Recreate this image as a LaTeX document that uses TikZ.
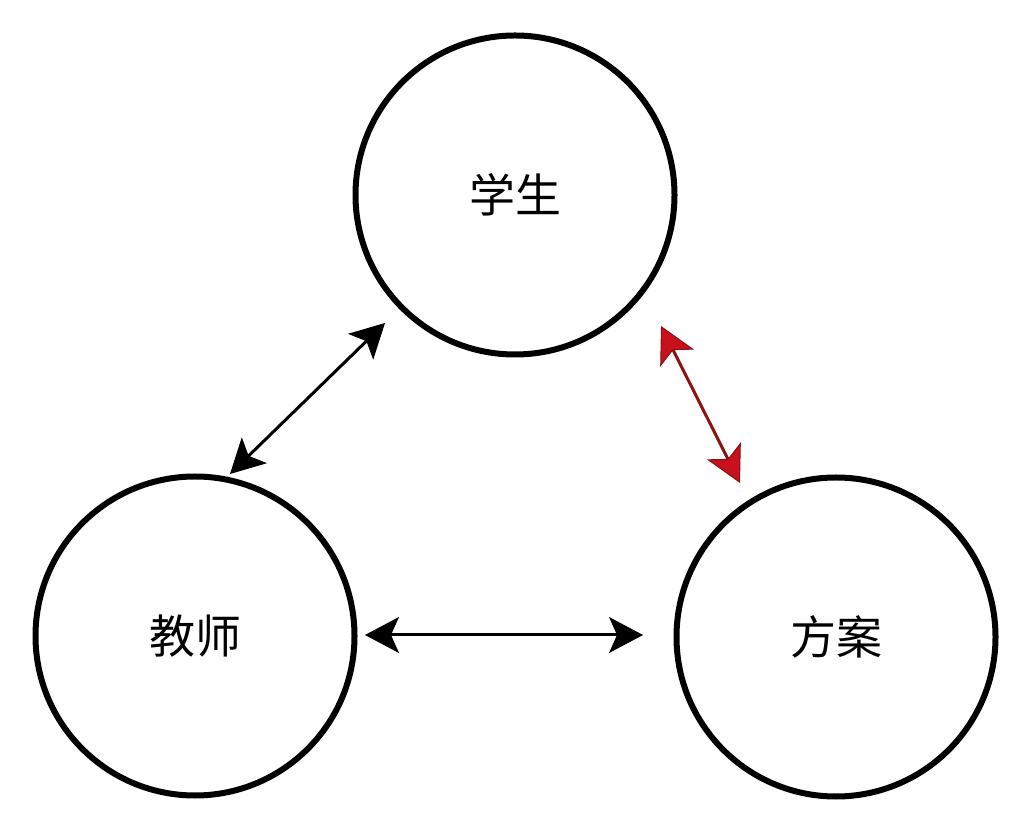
\documentclass[tikz,border=0pt]{standalone}
\usepackage{fontspec}
\newfontfamily\cjk{Noto Sans CJK SC}
\usetikzlibrary{arrows.meta,calc}
\definecolor{redline}{RGB}{140,18,18}
\definecolor{redhead}{RGB}{200,16,30}
\tikzset{
  ring/.style={circle,draw=black,line width=6pt,minimum size=319pt,inner sep=0pt,
    font=\cjk\fontsize{46}{50}\selectfont},
  blackhead/.style={Stealth[length=34pt,width=36pt,inset=8pt,line width=1pt]},
  redtip/.style={Stealth[length=36pt,width=38pt,inset=9pt,line width=1pt,fill=redhead]},
  link/.style={line width=3pt,draw=black,{Stealth[length=34pt,width=36pt,inset=8pt,line width=1pt]}-{Stealth[length=34pt,width=36pt,inset=8pt,line width=1pt]}},
  redlink/.style={line width=3pt,draw=redline,
    {Stealth[length=36pt,width=38pt,inset=9pt,line width=1pt,fill=redhead]}-{Stealth[length=36pt,width=38pt,inset=9pt,line width=1pt,fill=redhead]}}
}
\begin{document}
\begin{tikzpicture}[x=1pt,y=1pt]
\useasboundingbox[fill=white] (0,0) rectangle (1032,832);
\node[ring] (top) at (515,637) {学生};
\node[ring] (left) at (195,196) {教师};
\node[ring] (right) at (836,195) {方案};
\draw[link] ($(top)+(-130,-128)$) -- ($(left)+(35,162)$);
\draw[redlink] ($(top)+(146,-131)$) -- ($(right)+(-96,154)$);
\draw[link] ($(left)+(170,1)$) -- ($(right)+(-193,2)$);
\end{tikzpicture}
\end{document}
